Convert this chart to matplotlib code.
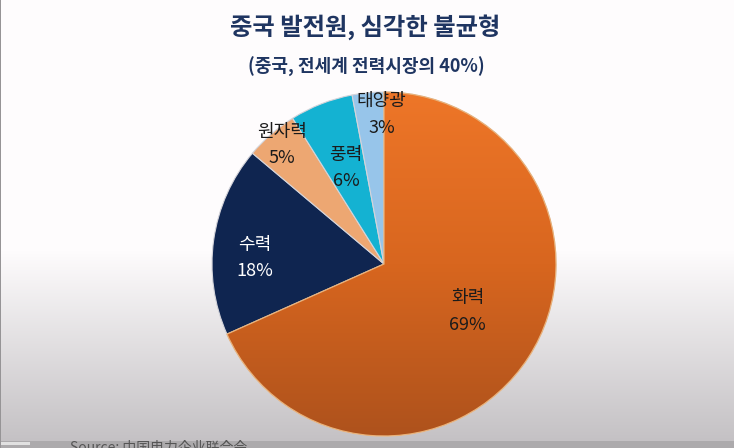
import numpy as np
import matplotlib
matplotlib.use("Agg")
import matplotlib.pyplot as plt
from matplotlib.patches import Wedge
from matplotlib.colors import LinearSegmentedColormap

plt.rcParams['font.family'] = ['Noto Sans CJK KR', 'Noto Sans CJK SC', 'DejaVu Sans']

# ---- data ----
categories = ['화력', '수력', '원자력', '풍력', '태양광']
shares = [69, 18, 5, 6, 3]
colors = ['#E8722A', '#0F2550', '#EDA772', '#14B2D2', '#97C5EA']
label_colors = ['#1b1b1b', '#ffffff', '#1b1b1b', '#1b1b1b', '#1b1b1b']
title = '중국 발전원, 심각한 불균형'
subtitle = '(중국, 전세계 전력시장의 40%)'
source = 'Source: 中国电力企业联合会'

# label placement styling (radius fraction, angular offset in degrees)
label_r = [0.56, 0.75, 0.91, 0.60, 0.87]
label_dang = [3.3, 5.3, -0.4, 0.2, -4.5]

W, H = 734, 448
fig = plt.figure(figsize=(W / 100, H / 100), dpi=100)

# ---- background gradient ----
bg = fig.add_axes([0, 0, 1, 1], zorder=-10)
img = np.zeros((H, W, 3))
top = np.array([254, 252, 253]) / 255
bot = np.array([196, 193, 196]) / 255
for py in range(H):
    if py < 250:
        c = top
    elif py < 441:
        t = (py - 250) / (441 - 250)
        c = top * (1 - t) + bot * t
    else:
        c = np.array([172, 170, 172]) / 255
    img[py, :, :] = c
img[442:445, 0:30, :] = np.array([225, 225, 225]) / 255
img[:, 0, :] = np.array([150, 148, 150]) / 255
bg.imshow(img, extent=[0, W, H, 0], aspect='auto', interpolation='bilinear')
bg.set_xlim(0, W)
bg.set_ylim(H, 0)
bg.axis('off')

# ---- pie ----
cx, cy, r = 384, 264, 172
ax = fig.add_axes([(cx - r) / W, (H - cy - r) / H, 2 * r / W, 2 * r / H])
wedges, _ = ax.pie(shares, colors=colors, startangle=90, counterclock=False,
                   radius=1, wedgeprops=dict(edgecolor='#d4d4da', linewidth=0.8))
for w in wedges:
    w.set_clip_on(False)

# gradient on the large orange wedge
orange_cmap = LinearSegmentedColormap.from_list('og', ['#AE521C', '#D8661F', '#EE7628'])
grad = np.linspace(0, 1, 256).reshape(-1, 1)
gim = ax.imshow(grad, extent=[-1, 1, -1, 1], origin='lower', cmap=orange_cmap,
                aspect='auto', zorder=wedges[0].get_zorder() + 0.1)
gim.set_clip_path(wedges[0])
edge0 = Wedge((0, 0), 1, wedges[0].theta1, wedges[0].theta2,
              facecolor='none', edgecolor='#e9b27a', linewidth=0.9,
              zorder=gim.get_zorder() + 0.1, clip_on=False)
ax.add_patch(edge0)

ax.set_xlim(-1, 1)
ax.set_ylim(-1, 1)
ax.set_aspect('equal')
ax.axis('off')

for w, cat, val, col, lr, da in zip(wedges, categories, shares, label_colors, label_r, label_dang):
    ang = np.deg2rad((w.theta1 + w.theta2) / 2 + da)
    x, y = lr * np.cos(ang), lr * np.sin(ang)
    ax.text(x, y, f'{cat}\n{val}%', ha='center', va='center', fontsize=13,
            color=col, linespacing=1.6, zorder=10)

# ---- titles ----
fig.text(0.498, 1 - 27 / H, title, ha='center', va='center', fontsize=17.5,
         fontweight='bold', color='#1F3561')
fig.text(0.4986, 1 - 67 / H, subtitle, ha='center', va='center', fontsize=13,
         fontweight='bold', color='#1F3561')
fig.text(70 / W, 1 - 441 / H, source, ha='left', va='top', fontsize=10,
         color='#555555')

fig.savefig('out.png', dpi=100)
